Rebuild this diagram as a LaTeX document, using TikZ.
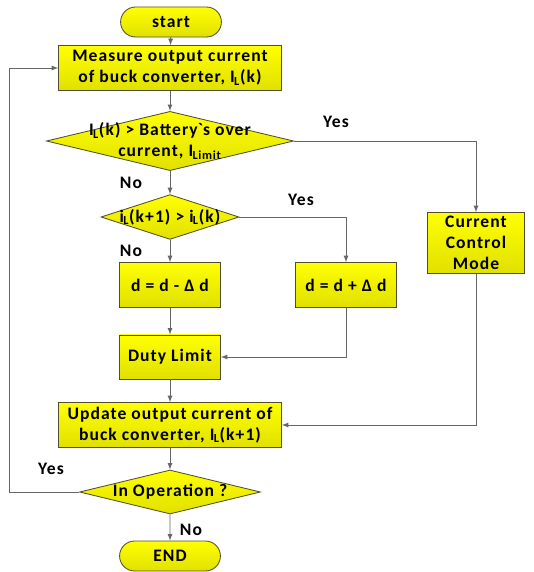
\documentclass[tikz,border=0pt]{standalone}
\usepackage{fontspec}
\setmainfont{Carlito}[LetterSpace=6]
\usepackage{tikz}
\usetikzlibrary{shapes.geometric,shapes.misc}

\newcommand{\lsub}[1]{\textsubscript{\kern-0.5pt#1}}

\tikzset{
  yel/.style={draw=black!55!olive, top color=yellow, bottom color=yellow!88!black, line width=0.6pt, inner sep=0pt, font=\bfseries\fontsize{12.5}{15}\selectfont, align=center},
  term/.style={yel, rounded rectangle, minimum width=2.52cm, minimum height=0.75cm},
  proc/.style={yel, rectangle, minimum height=1.12cm},
  decide/.style={yel, diamond, minimum width=#1},
  lbl/.style={font=\bfseries\fontsize{12.5}{15}\selectfont},
  conn/.style={draw=black!60, line width=0.6pt, -latex}
}

\begin{document}
\begin{tikzpicture}[x=0.025cm,y=-0.025cm]
\useasboundingbox (0,0) rectangle (533,572);

\node[term] (start) at (171,22) {start};
\node[proc, minimum width=5.57cm] (meas) at (170,68) {Measure output current\\of buck converter, I\lsub{L}(k)};
\node[decide=6.18cm, minimum height=1.48cm] (chk1) at (170,141) {};
\node[lbl, align=center] (chk1txt) at (chk1) {I\lsub{L}(k) > Battery\textasciigrave s over\\current, I\lsub{Limit}};
\node[decide=3.45cm, minimum height=1.12cm] (chk2) at (170,217) {};
\node[lbl] (chk2txt) at (chk2) {i\lsub{L}(k+1) > i\lsub{L}(k)};
\node[proc, minimum width=2.52cm] (dmin) at (170,285) {d = d -\ Δ d};
\node[proc, minimum width=2.52cm] (dplus) at (346,285) {d = d + Δ d};
\node[proc, minimum width=2.42cm, minimum height=1.52cm] (ccm) at (476,243) {Current\\Control\\Mode};
\node[proc, minimum width=2.52cm, minimum height=1.1cm] (duty) at (170,357) {Duty Limit};
\node[proc, minimum width=5.57cm] (upd) at (170,425) {Update output current of\\buck converter, I\lsub{L}(k+1)};
\node[decide=4.52cm, minimum height=1.1cm] (chk3) at (170,492) {};
\node[lbl] (chk3txt) at (chk3) {In Operation ?};
\node[term] (fin) at (170,556) {END};
\coordinate (back) at (9,492);

\draw[conn] (start) -- (meas);
\draw[conn] (meas) -- (chk1);
\draw[conn] (chk1) -- (chk2);
\draw[conn] (chk1.east) -| (ccm.north);
\draw[conn] (chk2) -- (dmin);
\draw[conn] (chk2.east) -| (dplus.north);
\draw[conn] (dmin) -- (duty);
\draw[conn] (dplus.south) |- (duty.east);
\draw[conn] (duty) -- (upd);
\draw[conn] (ccm.south) |- (upd.east);
\draw[conn] (upd) -- (chk3);
\draw[conn] (chk3.west) -- (back) |- (meas.west);
\draw[conn] (chk3) -- (fin);

\node[lbl] (yes1) at (336,122) {Yes};
\node[lbl] (no1) at (131,183) {No};
\node[lbl] (yes2) at (301,200) {Yes};
\node[lbl] (no2) at (131,251) {No};
\node[lbl] (yes3) at (51,469) {Yes};
\node[lbl] (no3) at (191,530) {No};
\end{tikzpicture}
\end{document}
